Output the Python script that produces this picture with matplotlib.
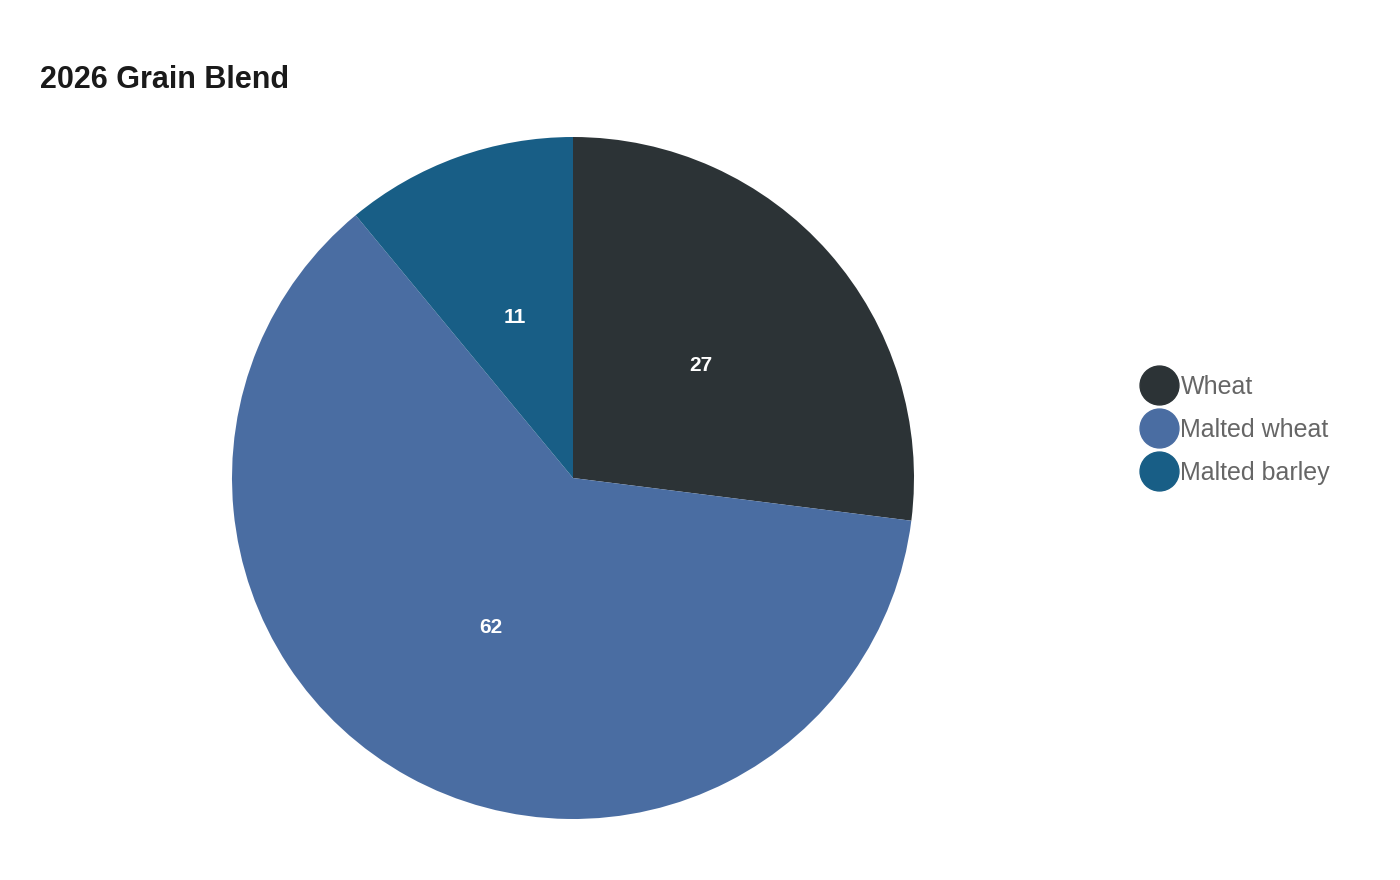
import matplotlib
matplotlib.use("Agg")
import matplotlib.pyplot as plt
from matplotlib.lines import Line2D

categories = ["Wheat", "Malted wheat", "Malted barley"]
values = [27, 62, 11]
colors = ["#2c3336", "#4a6da2", "#185e86"]

plt.rcParams['font.family'] = ['Liberation Sans', 'DejaVu Sans']

fig = plt.figure(figsize=(14, 8.8), dpi=100)
ax = fig.add_axes([232 / 1400, 61 / 880, 682 / 1400, 682 / 880])
wedges, texts, autotexts = ax.pie(
    values, colors=colors, startangle=90, counterclock=False, radius=1,
    autopct=lambda p: "%d" % round(p * sum(values) / 100), pctdistance=0.5,
    textprops=dict(color="white", fontsize=15, fontweight="bold"),
    wedgeprops=dict(linewidth=0))
ax.set_xlim(-1, 1)
ax.set_ylim(-1, 1)
ax.set_aspect("equal")

fig.text(40 / 1400, 1 - 80 / 880, "2026 Grain Blend", fontsize=22, fontweight="bold",
         color="#1a1a1a", va="center", ha="left")

handles = [Line2D([], [], marker="o", linestyle="", markersize=28, markerfacecolor=c,
                  markeredgecolor=c) for c in colors]
leg = fig.legend(handles, categories, loc="center left", bbox_to_anchor=(1118 / 1400, 1 - 430 / 880),
                 frameon=False, fontsize=18, handletextpos=0.0 if False else None) if False else \
    fig.legend(handles, categories, loc="center left", bbox_to_anchor=(1118 / 1400, 1 - 430 / 880),
               frameon=False, fontsize=18, handletextpad=0.1, labelspacing=0.75, handlelength=1.5)
for t in leg.get_texts():
    t.set_color("#666666")

fig.savefig("out.png", dpi=100, facecolor="white")
